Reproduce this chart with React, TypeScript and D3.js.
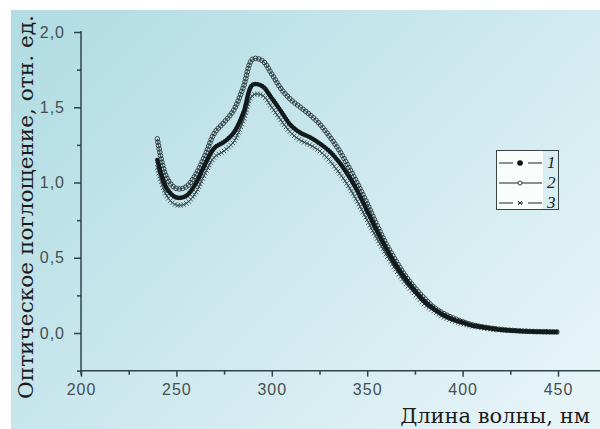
import { useEffect, useRef } from 'react';
import * as d3 from 'd3';

// wavelength, nm
const wavelengths = [
  240, 245, 250, 255, 260, 265, 270, 275, 280, 285, 290, 295, 300, 305, 310,
  315, 320, 325, 330, 335, 340, 345, 350, 355, 360, 365, 370, 375, 380, 385,
  390, 395, 400, 405, 410, 415, 420, 425, 430, 435, 440, 445, 450,
];

// optical absorbance, curve 1 (filled dots)
const sample1 = [
  1.15, 0.96, 0.9, 0.91, 0.99, 1.12, 1.23, 1.27, 1.33, 1.46, 1.65, 1.64, 1.56, 1.47, 1.38,
  1.33, 1.3, 1.26, 1.21, 1.14, 1.05, 0.94, 0.81, 0.68, 0.56, 0.45, 0.36, 0.28, 0.21, 0.16,
  0.12, 0.09, 0.07, 0.05, 0.04, 0.03, 0.022, 0.017, 0.013, 0.01, 0.008, 0.007, 0.006,
];

// curve 2 (open circles)
const sample2 = [
  1.29, 1.03, 0.96, 0.97, 1.05, 1.18, 1.33, 1.4, 1.48, 1.63, 1.82, 1.81, 1.72, 1.62, 1.55,
  1.5, 1.45, 1.39, 1.31, 1.22, 1.11, 0.99, 0.86, 0.72, 0.59, 0.48, 0.38, 0.3, 0.23, 0.17,
  0.13, 0.1, 0.075, 0.055, 0.042, 0.032, 0.024, 0.018, 0.014, 0.011, 0.009, 0.008, 0.007,
];

// curve 3 (crosses)
const sample3 = [
  1.1, 0.91, 0.85, 0.86, 0.93, 1.06, 1.17, 1.21, 1.27, 1.41, 1.58, 1.58, 1.5, 1.41, 1.33,
  1.28, 1.25, 1.21, 1.15, 1.07, 0.98, 0.87, 0.75, 0.63, 0.52, 0.42, 0.33, 0.26, 0.19, 0.145,
  0.105, 0.08, 0.06, 0.045, 0.034, 0.025, 0.019, 0.015, 0.012, 0.009, 0.007, 0.006, 0.005,
];

const yTicks = [0, 0.5, 1, 1.5, 2];
const yTickLabels = ['0,0', '0,5', '1,0', '1,5', '2,0'];
const yMinor = [-0.25, 0.25, 0.75, 1.25, 1.75];
const xTicks = [200, 250, 300, 350, 400, 450];
const xMinor = [225, 275, 325, 375, 425];
const legendLabels = ['1', '2', '3'];

const axisColor = '#2f4449';

const App = () => {
  const svgRef = useRef<SVGSVGElement>(null);

  useEffect(() => {
    document.body.style.margin = '0';
    const width = 600;
    const height = 429;

    const svg = d3.select(svgRef.current).attr('width', width).attr('height', height);
    svg.selectAll('*').remove();

    const grad = svg.append('defs').append('linearGradient')
      .attr('id', 'bg').attr('x1', '0').attr('y1', '0.15').attr('x2', '1').attr('y2', '0.85');
    grad.append('stop').attr('offset', '0').attr('stop-color', '#b3dde4');
    grad.append('stop').attr('offset', '1').attr('stop-color', '#e6f4f8');

    svg.append('rect')
      .attr('x', 11).attr('y', 10)
      .attr('width', width - 11).attr('height', height - 10)
      .attr('fill', 'url(#bg)');

    const x = d3.scaleLinear().domain([200, 450]).range([81, 558]);
    const y = d3.scaleLinear().domain([0, 2]).range([333, 32]);
    const yBottom = y(-0.25);

    // axes
    const ax = svg.append('g');
    ax.append('line')
      .attr('x1', x(200)).attr('x2', width).attr('y1', yBottom).attr('y2', yBottom)
      .attr('stroke', axisColor).attr('stroke-width', 1.5);
    ax.append('line')
      .attr('x1', x(200)).attr('x2', x(200)).attr('y1', y(2) - 1).attr('y2', yBottom + 4)
      .attr('stroke', axisColor).attr('stroke-width', 1.5);

    const tickFont = (g: any) => g.selectAll('text')
      .attr('fill', '#464f52')
      .style('font-family', '"Liberation Sans", Arial, sans-serif')
      .style('font-size', '16px')
      .style('letter-spacing', '1px');

    const gx = ax.append('g').attr('transform', `translate(0,${yBottom})`);
    gx.call(d3.axisBottom(x).tickValues(xTicks).tickSize(6).tickPadding(7).tickFormat(d3.format('d')));
    gx.append('g').call(d3.axisBottom(x).tickValues(xMinor).tickSize(4).tickFormat(() => ''));
    gx.selectAll('.domain').remove();
    gx.selectAll('line').attr('stroke', axisColor).attr('stroke-width', 1.5);
    tickFont(gx);

    const gy = ax.append('g').attr('transform', `translate(${x(200)},0)`);
    gy.call(d3.axisLeft(y).tickValues(yTicks).tickSize(7).tickPadding(9)
      .tickFormat((d, i) => yTickLabels[i]));
    gy.append('g').call(d3.axisLeft(y).tickValues(yMinor).tickSize(4).tickFormat(() => ''));
    gy.selectAll('.domain').remove();
    gy.selectAll('line').attr('stroke', axisColor).attr('stroke-width', 1.5);
    tickFont(gy);

    // curves
    const makeLine = (vals: number[]) => d3.line<number>()
      .x((d, i) => x(wavelengths[i]))
      .y((d) => y(d))
      .curve(d3.curveCatmullRom.alpha(0.5))(vals);

    const plot = svg.append('g');

    const alongPath = (node: SVGPathElement, step: number) => {
      const total = node.getTotalLength();
      const pts: DOMPoint[] = [];
      for (let s = 0; s <= total; s += step) pts.push(node.getPointAtLength(s));
      return pts;
    };

    // curve 2: open circles
    const p2 = plot.append('path').attr('d', makeLine(sample2))
      .attr('fill', 'none').attr('stroke', '#2a3a3c').attr('stroke-width', 0.8);
    plot.append('g').selectAll('circle')
      .data(alongPath(p2.node() as SVGPathElement, 3.4))
      .join('circle')
      .attr('cx', (d) => d.x).attr('cy', (d) => d.y).attr('r', 2.3)
      .attr('fill', 'none').attr('stroke', '#27373a').attr('stroke-width', 0.9);

    // curve 3: crosses
    const p3 = plot.append('path').attr('d', makeLine(sample3))
      .attr('fill', 'none').attr('stroke', '#33464a').attr('stroke-width', 0.8);
    plot.append('g').selectAll('path')
      .data(alongPath(p3.node() as SVGPathElement, 3))
      .join('path')
      .attr('d', (d) => `M${d.x - 2.2},${d.y - 2.2}L${d.x + 2.2},${d.y + 2.2}M${d.x - 2.2},${d.y + 2.2}L${d.x + 2.2},${d.y - 2.2}`)
      .attr('stroke', '#33464a').attr('stroke-width', 0.9);

    // curve 1: filled dots
    const p1 = plot.append('path').attr('d', makeLine(sample1))
      .attr('fill', 'none').attr('stroke', '#111').attr('stroke-width', 1);
    plot.append('g').selectAll('circle')
      .data(alongPath(p1.node() as SVGPathElement, 2.4))
      .join('circle')
      .attr('cx', (d) => d.x).attr('cy', (d) => d.y).attr('r', 2.3)
      .attr('fill', '#121a1b');

    // legend
    const lg = svg.append('g');
    lg.append('rect').attr('x', 497).attr('y', 151).attr('width', 46).attr('height', 58).attr('fill', '#fbfdfd');
    lg.append('rect').attr('x', 496.5).attr('y', 150.5).attr('width', 62).attr('height', 59)
      .attr('fill', 'none').attr('stroke', '#3a4345').attr('stroke-width', 1);
    const rows = lg.selectAll('g.row').data(legendLabels).join('g')
      .attr('class', 'row')
      .attr('transform', (d, i) => `translate(0,${163 + i * 20})`);
    rows.append('line')
      .attr('x1', 499).attr('x2', 542).attr('y1', 0).attr('y2', 0)
      .attr('stroke', '#222').attr('stroke-width', 1)
      .attr('stroke-dasharray', (d, i) => (i === 1 ? null : '14,5,5,5,14'));
    rows.filter((d, i) => i === 0).append('circle')
      .attr('cx', 520).attr('cy', 0).attr('r', 2.8).attr('fill', '#111');
    rows.filter((d, i) => i === 1).append('circle')
      .attr('cx', 520).attr('cy', 0).attr('r', 2).attr('fill', '#fff').attr('stroke', '#333');
    rows.filter((d, i) => i === 2).append('path')
      .attr('d', 'M518,-2L522,2M518,2L522,-2').attr('stroke', '#333').attr('stroke-width', 1);
    rows.append('text')
      .attr('x', 547).attr('y', 5)
      .attr('fill', '#222')
      .style('font-family', '"Liberation Serif", serif')
      .style('font-style', 'italic')
      .style('font-size', '17px')
      .text((d) => d);

    // axis titles
    svg.append('text')
      .attr('transform', 'translate(33,207) rotate(-90)')
      .attr('text-anchor', 'middle')
      .attr('textLength', 384)
      .attr('lengthAdjust', 'spacingAndGlyphs')
      .attr('fill', '#1c1c1c')
      .style('font-family', '"DejaVu Serif", serif')
      .style('font-size', '21px')
      .text('Оптическое поглощение, отн. ед.');

    svg.append('text')
      .attr('x', 590).attr('y', 423)
      .attr('text-anchor', 'end')
      .attr('fill', '#1c1c1c')
      .style('font-family', '"DejaVu Serif", serif')
      .style('font-size', '21px')
      .text('Длина волны, нм');
  }, []);

  return (
    <div>
      <svg ref={svgRef} style={{ display: 'block' }}></svg>
    </div>
  );
};

export default App;
